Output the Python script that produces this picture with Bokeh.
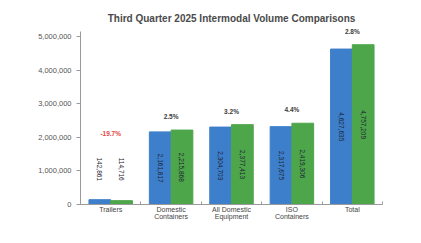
import math
from bokeh.plotting import figure
from bokeh.models import (ColumnDataSource, Range1d, FixedTicker, NumeralTickFormatter,
                          Legend, LegendItem)
from bokeh.core.properties import value
from bokeh.embed import file_html
from bokeh.resources import INLINE

categories = ["Trailers", "Domestic\nContainers", "All Domestic\nEquipment", "ISO\nContainers", "Total"]
vol_2024 = [142861, 2161817, 2304703, 2317675, 4627635]
vol_2025 = [114716, 2215868, 2377413, 2419306, 4757209]
lbl_2024 = ["142,861", "2,161,817", "2,304,703", "2,317,675", "4,627,635"]
lbl_2025 = ["114,716", "2,215,868", "2,377,413", "2,419,306", "4,757,209"]
pct_labels = ["-19.7%", "2.5%", "3.2%", "4.4%", "2.8%"]
y_ticks = [0, 1000000, 2000000, 3000000, 4000000, 5000000]

BLUE = "#3d7fcb"
GREEN = "#4ea64b"
FONT = "Liberation Sans"

n = len(categories)
centers = [i + 0.5 for i in range(n)]
w = 0.36
small = 500000  # bars too short to hold a label inside

x24 = [c - w / 2 for c in centers]
x25 = [c + w / 2 for c in centers]

p = figure(frame_width=302, frame_height=176, output_backend="svg", toolbar_location=None,
           x_range=Range1d(0, n), y_range=Range1d(0, 5240000),
           min_border_left=80, min_border_right=39, min_border_top=28, min_border_bottom=0)
p.outline_line_color = None
p.background_fill_color = "white"
p.border_fill_color = "white"
p.xgrid.grid_line_color = None
p.ygrid.grid_line_color = None

p.title.text = "Third Quarter 2025 Intermodal Volume Comparisons"
p.title.align = "center"
p.title.offset = -30
p.title.text_font = FONT
p.title.text_font_size = "10px"
p.title.text_font_style = "bold"
p.title.text_color = "#4a4a4a"

src = ColumnDataSource(dict(x24=x24, x25=x25, v24=vol_2024, v25=vol_2025))
r24 = p.vbar(x="x24", top="v24", width=w, source=src, fill_color=BLUE, line_color=BLUE)
r25 = p.vbar(x="x25", top="v25", width=w, source=src, fill_color=GREEN, line_color=GREEN)

# value labels inside bars (rotated)
ly24 = [v / 2 if v > small else 1050000 for v in vol_2024]
ly25 = [v / 2 if v > small else 1050000 for v in vol_2025]
lsrc = ColumnDataSource(dict(x24=x24, x25=x25, y24=ly24, y25=ly25, t24=lbl_2024, t25=lbl_2025))
for xc, yc, tc in (("x24", "y24", "t24"), ("x25", "y25", "t25")):
    p.text(x=xc, y=yc, text=tc, source=lsrc, angle=-math.pi / 2,
           text_align="center", text_baseline="middle",
           text_font=value(FONT), text_font_size="6.5px", text_color="#1c2533")

# percentage labels above pairs
py = [max(a, b) if max(a, b) > small else 1700000 for a, b in zip(vol_2024, vol_2025)]
pcol = ["#e8433f" if s.startswith("-") else "#3a3a3a" for s in pct_labels]
psrc = ColumnDataSource(dict(x=centers, y=py, t=pct_labels, c=pcol))
p.text(x="x", y="y", text="t", source=psrc, text_color="c", y_offset=-10,
       text_align="center", text_baseline="bottom",
       text_font=value(FONT), text_font_size="6.5px", text_font_style="bold")

# axes
p.yaxis.ticker = FixedTicker(ticks=y_ticks)
p.yaxis.bounds = (0, 5150000)
p.yaxis.formatter = NumeralTickFormatter(format="0,0")
p.yaxis.axis_line_color = "#9a9a9a"
p.yaxis.major_tick_line_color = "#9a9a9a"
p.yaxis.major_tick_out = 4
p.yaxis.major_tick_in = 0
p.yaxis.minor_tick_line_color = None
p.yaxis.major_label_text_font = FONT
p.yaxis.major_label_text_font_size = "7.5px"
p.yaxis.major_label_text_color = "#555555"
p.yaxis.major_label_standoff = 5

p.xaxis.ticker = FixedTicker(ticks=centers, minor_ticks=list(range(n + 1)))
p.xaxis.major_label_overrides = {c: lab for c, lab in zip(centers, categories)}
p.xaxis.axis_line_color = "#9a9a9a"
p.xaxis.major_tick_line_color = None
p.xaxis.major_tick_out = 0
p.xaxis.major_tick_in = 0
p.xaxis.minor_tick_line_color = "#9a9a9a"
p.xaxis.minor_tick_in = 3
p.xaxis.minor_tick_out = 0
p.xaxis.major_label_text_font = FONT
p.xaxis.major_label_text_font_size = "7px"
p.xaxis.major_label_text_line_height = 1.0
p.xaxis.major_label_text_color = "#444444"
p.xaxis.major_label_standoff = 1
p.xaxis.axis_label = None
p.xaxis.axis_label_standoff = 0

legend = Legend(items=[LegendItem(label="2024", renderers=[r24]),
                       LegendItem(label="2025", renderers=[r25])],
                orientation="horizontal", location="top_center",
                label_text_font=FONT, label_text_font_size="7.5px", label_text_color="#555555",
                glyph_width=16, glyph_height=8, spacing=15, padding=0, margin=0,
                border_line_color=None, background_fill_alpha=0, label_standoff=4,
                label_height=8)
p.add_layout(legend, "below")

open("out.html", "w").write(file_html(p, INLINE))
